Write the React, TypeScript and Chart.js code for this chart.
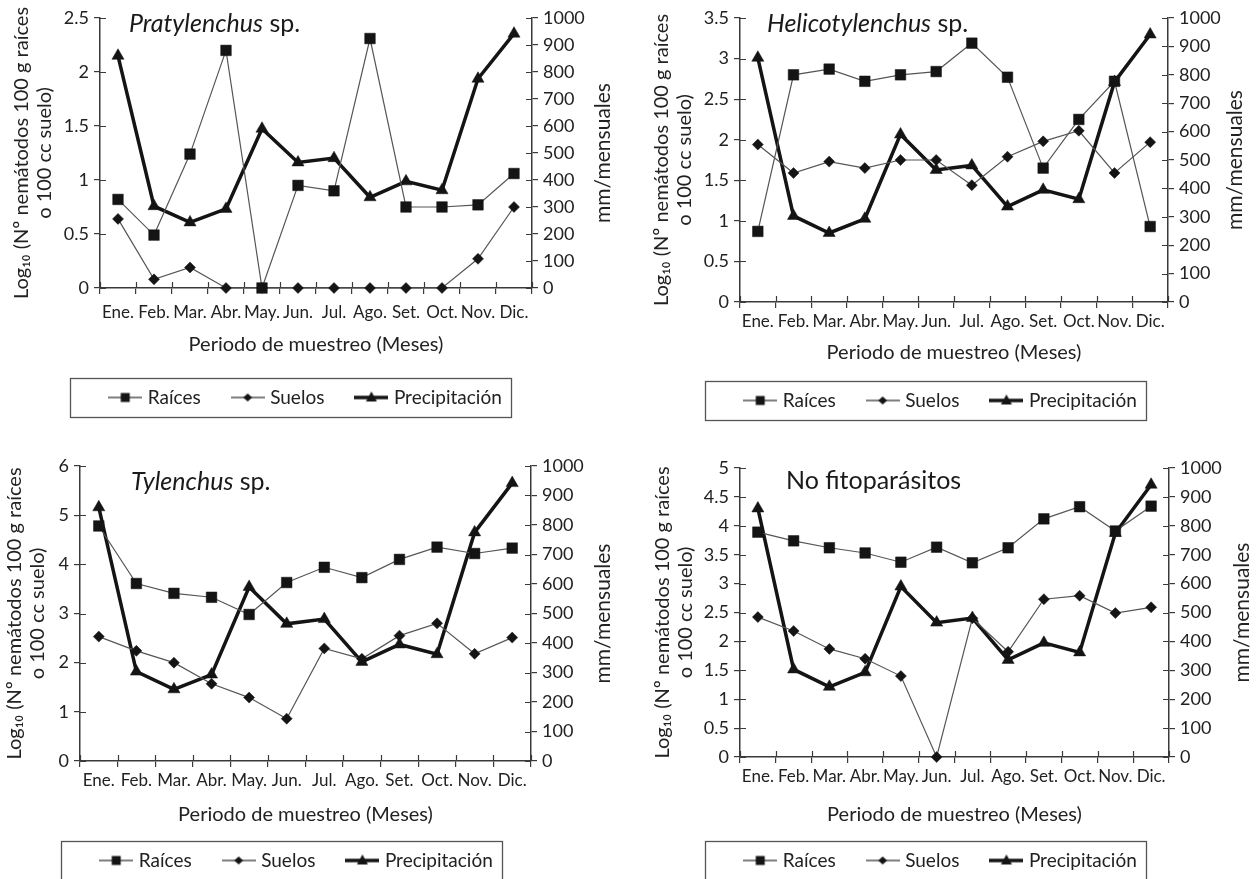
import React, { useEffect, useRef } from 'react';
import { Chart, registerables } from 'chart.js';

Chart.register(...registerables);

// ---------- data ----------
const months = ['Ene.', 'Feb.', 'Mar.', 'Abr.', 'May.', 'Jun.', 'Jul.', 'Ago.', 'Set.', 'Oct.', 'Nov.', 'Dic.'];
const precipitacion = [860, 303, 243, 293, 590, 465, 481, 336, 395, 362, 775, 942];

const pratRaices = [0.82, 0.49, 1.24, 2.2, 0, 0.95, 0.9, 2.31, 0.75, 0.75, 0.77, 1.06];
const pratSuelos = [0.64, 0.08, 0.19, 0, 0, 0, 0, 0, 0, 0, 0.27, 0.75];
const helRaices = [0.87, 2.8, 2.87, 2.72, 2.8, 2.84, 3.19, 2.77, 1.65, 2.25, 2.72, 0.93];
const helSuelos = [1.94, 1.59, 1.73, 1.65, 1.75, 1.75, 1.44, 1.79, 1.98, 2.11, 1.59, 1.97];
const tylRaices = [4.78, 3.61, 3.41, 3.33, 2.98, 3.63, 3.94, 3.73, 4.1, 4.35, 4.22, 4.33];
const tylSuelos = [2.53, 2.24, 2.0, 1.57, 1.29, 0.86, 2.29, 2.08, 2.55, 2.8, 2.18, 2.51];
const noRaices = [3.89, 3.74, 3.62, 3.53, 3.37, 3.63, 3.36, 3.62, 4.12, 4.33, 3.91, 4.34];
const noSuelos = [2.42, 2.18, 1.87, 1.7, 1.4, 0, 2.4, 1.82, 2.73, 2.79, 2.49, 2.59];

const seriesNames = ['Raíces', 'Suelos', 'Precipitación'];
const yTitleLines = ['Log₁₀ (Nº nemátodos 100 g raíces', 'o 100 cc suelo)'];
const y1Title = 'mm/mensuales';
const xTitle = 'Periodo de muestreo (Meses)';

type Part = { text: string; italic: boolean };
const tituloPrat: Part[] = [{ text: 'Pratylenchus', italic: true }, { text: ' sp.', italic: false }];
const tituloHel: Part[] = [{ text: 'Helicotylenchus', italic: true }, { text: ' sp.', italic: false }];
const tituloTyl: Part[] = [{ text: 'Tylenchus', italic: true }, { text: ' sp.', italic: false }];
const tituloNo: Part[] = [{ text: 'No fitoparásitos', italic: false }];

// ---------- style / layout ----------
const FONT = 'Lato, "Open Sans", sans-serif';
const AXIS = '#3a3a3a';
const TEXT = '#222';
const THIN = '#555';
const MARK = '#141414';
const XTICK_SIZE = 17;
const YTICK_SIZE = 18;
const LEGEND_SIZE = 19;

const panels = [
  { title: tituloPrat, raices: pratRaices, suelos: pratSuelos, yMax: 2.5, yStep: 0.5,
    left: 0, top: 0, width: 614, height: 420, leftW: 100, rightW: 82, xH: 66, xTickPad: 8.5, xTitlePad: -1, yTitlePad: 10.5, rtDx: 71, tDx: 29, tDy: 14 },
  { title: tituloHel, raices: helRaices, suelos: helSuelos, yMax: 3.5, yStep: 0.5,
    left: 630, top: 0, width: 624, height: 423, leftW: 110, rightW: 86, xH: 55, xTickPad: 3.5, xTitlePad: -6, yTitlePad: 20.5, rtDx: 67, tDx: 27, tDy: 14 },
  { title: tituloTyl, raices: tylRaices, suelos: tylSuelos, yMax: 6, yStep: 1,
    left: -20, top: 448, width: 636, height: 435, leftW: 100, rightW: 85, xH: 56, xTickPad: 3.5, xTitlePad: -8, yTitlePad: 23.5, rtDx: 72, tDx: 51, tDy: 24 },
  { title: tituloNo, raices: noRaices, suelos: noSuelos, yMax: 5, yStep: 0.5,
    left: 630, top: 450, width: 624, height: 433, leftW: 110, rightW: 85, xH: 60, xTickPad: 3.5, xTitlePad: -8, yTitlePad: 21.5, rtDx: 73, tDx: 46, tDy: 21 },
];

type PanelCfg = typeof panels[number];

function makeIcon(kind: number): HTMLCanvasElement {
  const c = document.createElement('canvas');
  c.width = 34;
  c.height = 14;
  const ctx = c.getContext('2d')!;
  const cy = 7;
  ctx.strokeStyle = kind === 2 ? MARK : THIN;
  ctx.lineWidth = kind === 2 ? 3.5 : 1.3;
  ctx.beginPath();
  ctx.moveTo(0, cy);
  ctx.lineTo(34, cy);
  ctx.stroke();
  ctx.fillStyle = MARK;
  ctx.beginPath();
  if (kind === 0) {
    ctx.rect(17 - 4.5, cy - 4.5, 9, 9);
  } else if (kind === 1) {
    ctx.moveTo(17 - 4.5, cy);
    ctx.lineTo(17, cy - 4);
    ctx.lineTo(17 + 4.5, cy);
    ctx.lineTo(17, cy + 4);
    ctx.closePath();
  } else {
    ctx.moveTo(17, cy - 6);
    ctx.lineTo(17 + 5.5, cy + 4);
    ctx.lineTo(17 - 5.5, cy + 4);
    ctx.closePath();
  }
  ctx.fill();
  return c;
}

function Panel({ cfg }: { cfg: PanelCfg }) {
  const ref = useRef<HTMLCanvasElement>(null);

  useEffect(() => {
    if (!ref.current) return;
    const icons = [makeIcon(0), makeIcon(1), makeIcon(2)];

    const speciesTitle = {
      id: 'speciesTitle',
      afterDraw(chart: any) {
        const { ctx, chartArea: a } = chart;
        ctx.save();
        ctx.fillStyle = '#1a1a1a';
        ctx.textBaseline = 'alphabetic';
        ctx.textAlign = 'left';
        let x = a.left + cfg.tDx;
        for (const p of cfg.title) {
          ctx.font = `${p.italic ? 'italic ' : ''}25px ${FONT}`;
          ctx.fillText(p.text, x, a.top + cfg.tDy);
          x += ctx.measureText(p.text).width;
        }
        ctx.restore();
      },
    };

    const rightTitle = {
      id: 'rightTitle',
      afterDraw(chart: any) {
        const { ctx, chartArea: a } = chart;
        ctx.save();
        ctx.fillStyle = TEXT;
        ctx.font = `21px ${FONT}`;
        ctx.textAlign = 'center';
        ctx.textBaseline = 'middle';
        ctx.translate(a.right + cfg.rtDx, (a.top + a.bottom) / 2);
        ctx.rotate(-Math.PI / 2);
        ctx.fillText(y1Title, 0, 0);
        ctx.restore();
      },
    };

    const crossTicks = {
      id: 'crossTicks',
      beforeDatasetsDraw(chart: any) {
        const { ctx, chartArea: a, scales } = chart;
        ctx.save();
        ctx.strokeStyle = AXIS;
        ctx.lineWidth = 1.2;
        ctx.beginPath();
        const yl = scales.y;
        yl.ticks.forEach((_t: any, i: number) => {
          const p = Math.round(yl.getPixelForTick(i)) + 0.5;
          ctx.moveTo(a.left, p);
          ctx.lineTo(a.left + 6, p);
        });
        const yr = scales.y1;
        yr.ticks.forEach((_t: any, i: number) => {
          const p = Math.round(yr.getPixelForTick(i)) + 0.5;
          ctx.moveTo(a.right - 6, p);
          ctx.lineTo(a.right, p);
        });
        const n = months.length;
        for (let i = 0; i <= n; i++) {
          const x = Math.round(a.left + (i * (a.right - a.left)) / n) + 0.5;
          ctx.moveTo(x, a.bottom - 6);
          ctx.lineTo(x, a.bottom);
        }
        ctx.stroke();
        ctx.restore();
      },
    };

    const legendBox = {
      id: 'legendBox',
      afterDraw(chart: any) {
        const lg = chart.legend;
        const hb = lg && lg.legendHitBoxes;
        if (!hb || !hb.length) return;
        const { ctx } = chart;
        const last = hb[hb.length - 1];
        const left = hb[0].left - 42;
        const right = last.left + last.width + 9;
        const cy = hb[0].top + hb[0].height / 2;
        ctx.save();
        ctx.strokeStyle = '#555';
        ctx.lineWidth = 1.3;
        ctx.strokeRect(Math.round(left) + 0.5, Math.round(cy - 20) + 0.5, Math.round(right - left), 39);
        ctx.restore();
      },
    };

    const chart = new Chart(ref.current, {
      type: 'line',
      data: {
        labels: months,
        datasets: [
          {
            label: seriesNames[0],
            data: cfg.raices,
            yAxisID: 'y',
            borderColor: THIN,
            borderWidth: 1.2,
            pointStyle: 'rect',
            pointRadius: 7.5,
            pointBackgroundColor: MARK,
            pointBorderColor: MARK,
            pointBorderWidth: 0.5,
            tension: 0,
            clip: false,
          },
          {
            label: seriesNames[1],
            data: cfg.suelos,
            yAxisID: 'y',
            borderColor: THIN,
            borderWidth: 1.2,
            pointStyle: 'rectRot',
            pointRadius: 5.5,
            pointBackgroundColor: MARK,
            pointBorderColor: MARK,
            pointBorderWidth: 0.5,
            tension: 0,
            clip: false,
          },
          {
            label: seriesNames[2],
            data: precipitacion,
            yAxisID: 'y1',
            borderColor: MARK,
            borderWidth: 3.5,
            pointStyle: 'triangle',
            pointRadius: 7,
            pointBackgroundColor: MARK,
            pointBorderColor: MARK,
            pointBorderWidth: 0.5,
            tension: 0,
            clip: false,
          },
        ],
      } as any,
      options: {
        animation: false,
        responsive: false,
        events: [],
        layout: { padding: { top: 18, left: 0, right: 0, bottom: 3 } },
        plugins: {
          legend: {
            display: true,
            position: 'bottom',
            labels: {
              usePointStyle: true,
              pointStyleWidth: 26,
              padding: 34,
              color: TEXT,
              font: { family: FONT, size: LEGEND_SIZE },
              generateLabels: (ch: any) => {
                const items = (Chart.defaults.plugins.legend.labels as any).generateLabels(ch);
                return items.map((it: any, i: number) => ({ ...it, pointStyle: icons[i], lineWidth: 0 }));
              },
            },
          },
          tooltip: { enabled: false },
        },
        scales: {
          x: {
            type: 'category',
            offset: true,
            grid: { offset: true, drawOnChartArea: false, drawTicks: true, tickLength: 6, color: AXIS, lineWidth: 1.2 },
            border: { display: true, color: AXIS, width: 1.5 },
            ticks: { color: TEXT, font: { family: FONT, size: XTICK_SIZE }, padding: cfg.xTickPad, maxRotation: 0, autoSkip: false },
            title: {
              display: true,
              text: xTitle,
              color: TEXT,
              font: { family: FONT, size: 20, lineHeight: 1.0 },
              padding: { top: 0, bottom: cfg.xTitlePad },
            },
            afterFit: (s: any) => { s.height = cfg.xH; },
          },
          y: {
            type: 'linear',
            position: 'left',
            min: 0,
            max: cfg.yMax,
            grid: { drawOnChartArea: false, drawTicks: true, tickLength: 6, color: AXIS, lineWidth: 1.2 },
            border: { display: true, color: AXIS, width: 1.5 },
            ticks: {
              stepSize: cfg.yStep,
              color: TEXT,
              font: { family: FONT, size: YTICK_SIZE },
              padding: 5,
              callback: (v: any) => String(v),
            },
            title: {
              display: true,
              text: yTitleLines,
              color: TEXT,
              font: { family: FONT, size: 20, lineHeight: 1.15 },
              padding: { top: cfg.yTitlePad, bottom: 0 },
            },
            afterFit: (s: any) => { s.width = cfg.leftW; },
          },
          y1: {
            type: 'linear',
            position: 'right',
            min: 0,
            max: 1000,
            grid: { drawOnChartArea: false, drawTicks: true, tickLength: 6, color: AXIS, lineWidth: 1.2 },
            border: { display: true, color: AXIS, width: 1.5 },
            ticks: {
              stepSize: 100,
              color: TEXT,
              font: { family: FONT, size: YTICK_SIZE },
              padding: 5,
              callback: (v: any) => String(v),
            },
            afterFit: (s: any) => { s.width = cfg.rightW; },
          },
        },
      } as any,
      plugins: [crossTicks, speciesTitle, rightTitle, legendBox],
    });

    return () => chart.destroy();
  }, [cfg]);

  return (
    <canvas
      ref={ref}
      width={cfg.width}
      height={cfg.height}
      style={{ position: 'absolute', left: cfg.left, top: cfg.top, width: cfg.width, height: cfg.height }}
    />
  );
}

export default function App() {
  return (
    <div
      style={{
        position: 'fixed',
        left: 0,
        top: 0,
        width: 1258,
        height: 879,
        background: '#fff',
        overflow: 'hidden',
      }}
    >
      {panels.map((p, i) => (
        <Panel key={i} cfg={p} />
      ))}
    </div>
  );
}
